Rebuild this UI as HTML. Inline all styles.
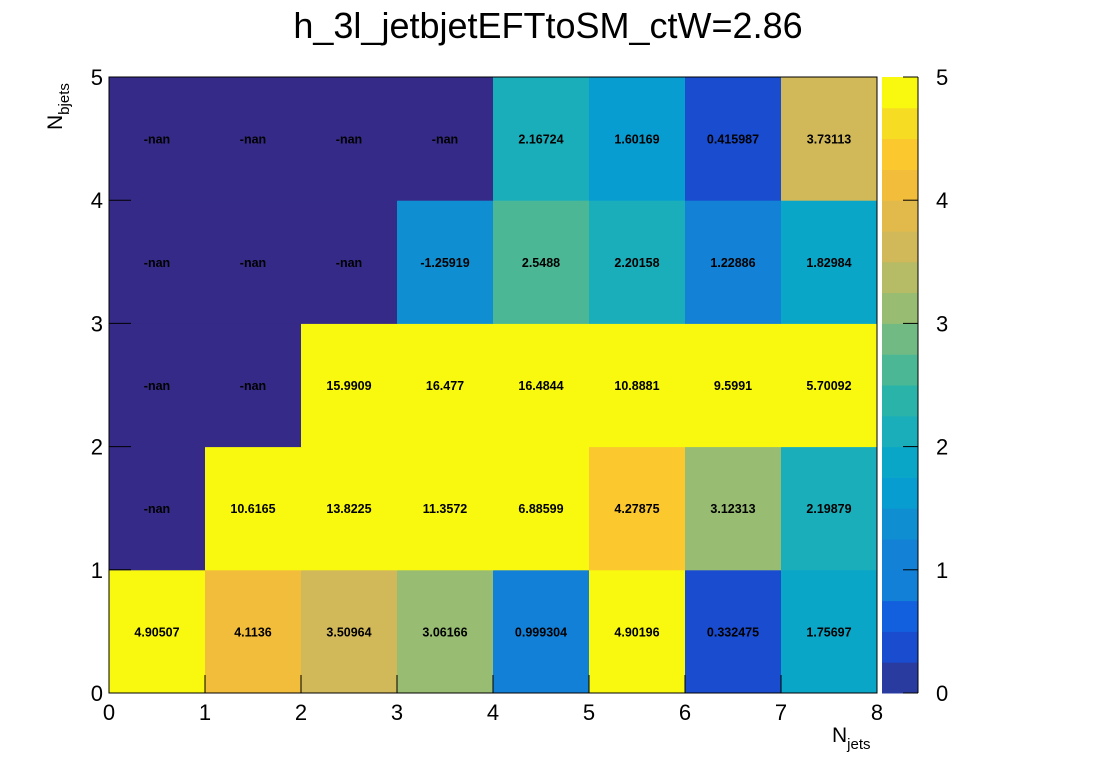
<!DOCTYPE html>
<html><head><meta charset="utf-8"><style>
body{margin:0;background:#fff}
svg{display:block;font-family:"Liberation Sans",Arial,sans-serif}
</style></head><body>
<svg id="c" width="1096" height="772">
<text x="548" y="38" font-size="36" text-anchor="middle">h_3l_jetbjetEFTtoSM_ctW=2.86</text>
<g id="cells"></g>
<g id="palette"></g>
<g id="axes"></g>
<text x="832" y="742" font-size="21">N<tspan font-size="15" dy="7">jets</tspan></text>
<text transform="translate(62,130) rotate(-90)" font-size="21">N<tspan font-size="15" dy="7">bjets</tspan></text>
</svg>
<script>
const xBins=[0,1,2,3,4,5,6,7];
const yBins=[0,1,2,3,4];
const row0=[4.90507,4.1136,3.50964,3.06166,0.999304,4.90196,0.332475,1.75697];
const row1=[NaN,10.6165,13.8225,11.3572,6.88599,4.27875,3.12313,2.19879];
const row2=[NaN,NaN,15.9909,16.477,16.4844,10.8881,9.5991,5.70092];
const row3=[NaN,NaN,NaN,-1.25919,2.5488,2.20158,1.22886,1.82984];
const row4=[NaN,NaN,NaN,NaN,2.16724,1.60169,0.415987,3.73113];
const labels=[
["4.90507","4.1136","3.50964","3.06166","0.999304","4.90196","0.332475","1.75697"],
["-nan","10.6165","13.8225","11.3572","6.88599","4.27875","3.12313","2.19879"],
["-nan","-nan","15.9909","16.477","16.4844","10.8881","9.5991","5.70092"],
["-nan","-nan","-nan","-1.25919","2.5488","2.20158","1.22886","1.82984"],
["-nan","-nan","-nan","-nan","2.16724","1.60169","0.415987","3.73113"]];
const rows=[row0,row1,row2,row3,row4];
const xTicks=[0,1,2,3,4,5,6,7,8];
const yTicks=[0,1,2,3,4,5];
const zTicks=[0,1,2,3,4,5];
const pal=["#2a3b9f","#1a4cd0","#1260de","#1380d8","#1381d5","#0f8fd2","#079dd0","#0aa6c7","#1aaebb","#2ab3a8","#4bb795","#72ba83","#97bc72","#b6bb65","#d1b95a","#e2ba4c","#f3bd3c","#fbc92e","#f6dc22","#f9f90f"];
const X0=109,X1=877,Y0=693,Y1=77,zMax=5;
const sx=v=>X0+(X1-X0)*v/8, sy=v=>Y0-(Y0-Y1)*v/5;
const ns="http://www.w3.org/2000/svg";
function mk(t,a,p){const e=document.createElementNS(ns,t);for(const k in a)e.setAttribute(k,a[k]);p.appendChild(e);return e;}
function col(v){if(isNaN(v))return "#352a87";v=Math.abs(v);let i=Math.floor(v/zMax*20);if(i>19)i=19;return pal[i];}
const cells=document.getElementById('cells');
rows.forEach((r,j)=>r.forEach((v,i)=>{
 const rc=mk('rect',{x:sx(i),y:sy(j+1),width:sx(i+1)-sx(i)+0.5,height:sy(j)-sy(j+1)+0.5,fill:col(v)},cells);
 
 
 const t=mk('text',{x:(sx(i)+sx(i+1))/2,y:(sy(j)+sy(j+1))/2+5,'font-size':12.5,'font-weight':'bold','text-anchor':'middle'},cells);
 t.textContent=labels[j][i];
 
 
}));
const P=document.getElementById('palette');
pal.forEach((c,k)=>{const y1=Y0-(Y0-Y1)*(k+1)/20,y0=Y0-(Y0-Y1)*k/20;
 const r=mk('rect',{x:882,y:y1,width:36,height:y0-y1+0.5,fill:c},P);
 
 });
const A=document.getElementById('axes');
const fr=mk('rect',{x:X0,y:Y1,width:X1-X0,height:Y0-Y1,fill:'none',stroke:'#000','stroke-width':1},A);


xTicks.forEach(v=>{mk('line',{x1:sx(v),x2:sx(v),y1:Y0,y2:Y0-18,stroke:'#000'},A);
 const t=mk('text',{x:sx(v),y:Y0+27,'font-size':22,'text-anchor':'middle'},A);t.textContent=v;
 
 });
yTicks.forEach(v=>{mk('line',{x1:X0,x2:X0+22,y1:sy(v),y2:sy(v),stroke:'#000'},A);
 const t=mk('text',{x:X0-6,y:sy(v)+8,'font-size':22,'text-anchor':'end'},A);t.textContent=v;
 
 });
zTicks.forEach(v=>{const y=Y0-(Y0-Y1)*v/zMax;mk('line',{x1:903,x2:918,y1:y,y2:y,stroke:'#000'},A);
 const t=mk('text',{x:936,y:y+8,'font-size':22},A);t.textContent=v;
 
 });
mk('line',{x1:918,x2:918,y1:Y1,y2:Y0,stroke:'#000'},A);
</script>
</body></html>
